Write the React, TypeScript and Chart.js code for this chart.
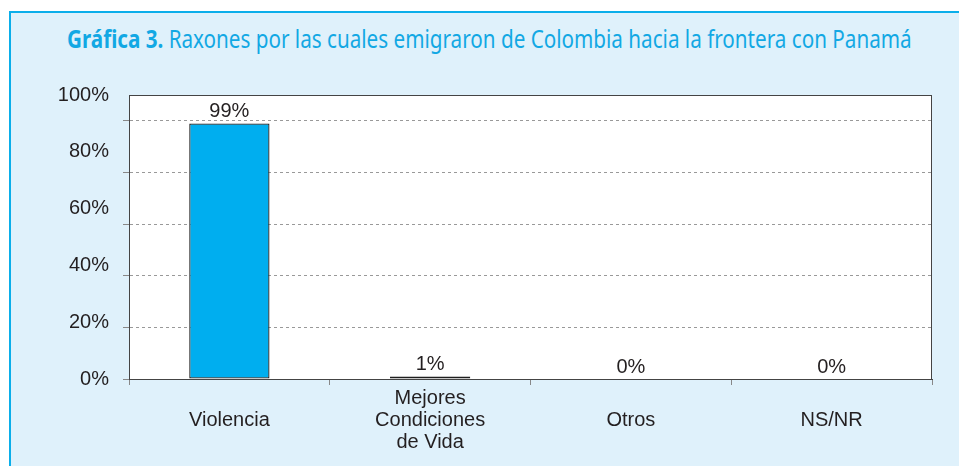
import React, { useEffect, useLayoutEffect, useRef } from "react";
import { Chart, registerables } from "chart.js";

Chart.register(...registerables);

const titleBold = "Gráfica 3.";
const titleRest = " Raxones por las cuales emigraron de Colombia hacia la frontera con Panamá";
const categories: string[][] = [
  ["", "Violencia"],
  ["Mejores", "Condiciones", "de Vida"],
  ["", "Otros"],
  ["", "NS/NR"],
];
const values = [99, 1, 0, 0];
const valueLabels = ["99%", "1%", "0%", "0%"];
const yTickLabels = ["0%", "20%", "40%", "60%", "80%", "100%"];

const FONT = "'Liberation Sans', Arial, sans-serif";
const TEXT = "#231f20";
const TITLE_WIDTH = 845;

const frameAndLabels = {
  id: "frameAndLabels",
  beforeDraw(chart: any) {
    const { ctx, chartArea: a } = chart;
    ctx.save();
    ctx.fillStyle = "#ffffff";
    ctx.fillRect(a.left, a.top, a.right - a.left, a.bottom - a.top);
    ctx.restore();
  },
  afterDatasetsDraw(chart: any) {
    const { ctx, chartArea: a } = chart;
    ctx.save();
    ctx.strokeStyle = "#444";
    ctx.lineWidth = 1;
    ctx.strokeRect(Math.round(a.left) + 0.5, Math.round(a.top) + 0.5, Math.round(a.right - a.left) - 1, Math.round(a.bottom - a.top));
    const meta = chart.getDatasetMeta(0);
    ctx.fillStyle = TEXT;
    ctx.font = `20px ${FONT}`;
    ctx.textAlign = "center";
    ctx.textBaseline = "alphabetic";
    meta.data.forEach((bar: any, i: number) => {
      ctx.fillText(valueLabels[i], bar.x, bar.y - 6);
    });
    ctx.restore();
  },
};

function BarChart() {
  const ref = useRef<HTMLCanvasElement>(null);
  useEffect(() => {
    if (!ref.current) return;
    const chart = new Chart(ref.current, {
      type: "bar",
      data: {
        labels: categories,
        datasets: [
          {
            data: values,
            backgroundColor: "#00aeef",
            borderColor: "#1f1f1f",
            borderWidth: 1.3,
            borderSkipped: false,
            inflateAmount: 0,
            barPercentage: 0.4,
            categoryPercentage: 1,
          },
        ],
      },
      options: {
        animation: false,
        responsive: false,
        layout: { padding: { left: 57, right: 27, top: 95, bottom: 11 } },
        plugins: { legend: { display: false }, tooltip: { enabled: false } },
        scales: {
          x: {
            grid: {
              offset: true,
              drawOnChartArea: false,
              tickLength: 6,
              tickColor: "#888",
            },
            border: { color: "#444" },
            ticks: {
              color: TEXT,
              font: { family: FONT, size: 20, lineHeight: 1.1 },
              padding: 2,
              maxRotation: 0,
              autoSkip: false,
            },
          },
          y: {
            position: "left",
            weight: 0,
            min: 0,
            max: 110,
            ticks: { display: false, stepSize: 20, includeBounds: false },
            grid: {
              color: "#999",
              tickLength: 6,
              tickColor: "#888",
              tickBorderDash: [],
            },
            border: { color: "#444", dash: [3, 3] },
            afterFit: (s: any) => {
              s.width = 6;
            },
          },
          y2: {
            position: "left",
            weight: 1,
            min: 0,
            max: 100,
            ticks: {
              stepSize: 20,
              padding: 14,
              color: TEXT,
              font: { family: FONT, size: 20 },
              callback: (v: any) => yTickLabels[Math.round(Number(v) / 20)],
            },
            grid: { display: false, drawTicks: false },
            border: { display: false },
            afterFit: (s: any) => {
              s.width = 66;
            },
          },
        },
      },
      plugins: [frameAndLabels],
    });
    return () => chart.destroy();
  }, []);
  return (
    <canvas
      ref={ref}
      width={959}
      height={466}
      style={{ position: "fixed", left: 0, top: 0, width: 959, height: 466, display: "block" }}
    />
  );
}

function Title() {
  const ref = useRef<HTMLDivElement>(null);
  useLayoutEffect(() => {
    const el = ref.current;
    if (!el) return;
    const w = el.scrollWidth;
    if (w > 0) el.style.transform = `scaleX(${TITLE_WIDTH / w})`;
  }, []);
  return (
    <div
      ref={ref}
      style={{
        position: "fixed",
        left: 67,
        top: 22,
        whiteSpace: "nowrap",
        fontFamily: "'Noto Sans', sans-serif",
        fontSize: 25,
        lineHeight: "32px",
        color: "#12a8e4",
        transformOrigin: "0 0",
        display: "inline-block",
      }}
    >
      <b>{titleBold}</b>
      {titleRest}
    </div>
  );
}

export default function App() {
  return (
    <div>
      <div
        style={{
          position: "fixed",
          left: 9,
          top: 11,
          right: 0,
          bottom: 0,
          background: "#dff1fb",
          borderTop: "2px solid #0aaeea",
          borderLeft: "2px solid #0aaeea",
        }}
      />
      <Title />
      <BarChart />
    </div>
  );
}
